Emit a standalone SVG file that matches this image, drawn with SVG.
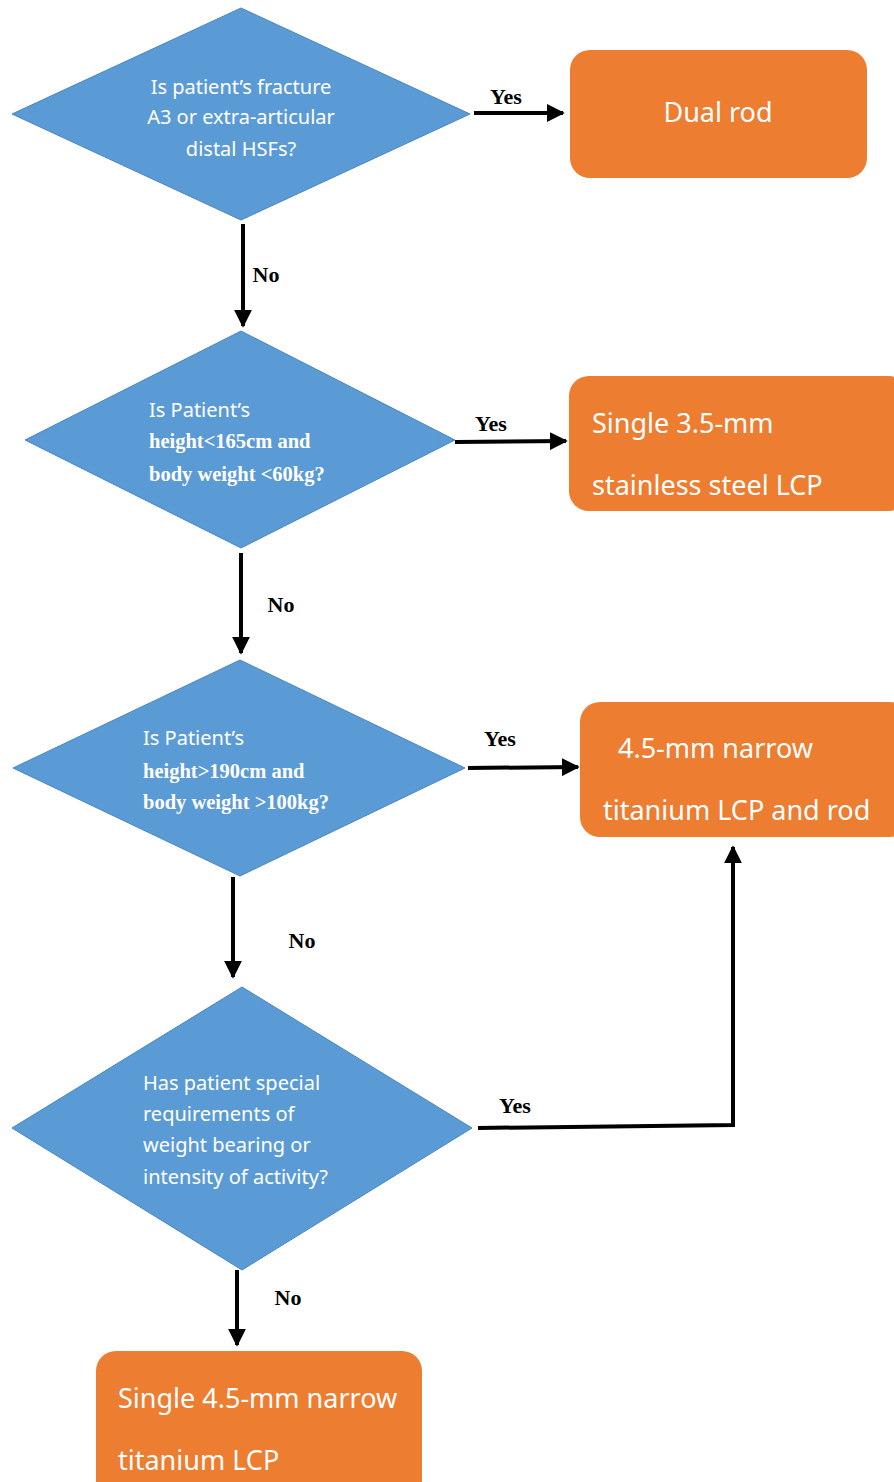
<svg xmlns="http://www.w3.org/2000/svg" width="894" height="1482" viewBox="0 0 894 1482">
<style>
.dia{fill:#5B9BD5;stroke:#4A86C0;stroke-width:1}
.box{fill:#ED7D31}
.qs{font-family:"Noto Sans","Open Sans",sans-serif;font-size:20px;fill:#fff}
.qb{font-family:"Liberation Serif","Times New Roman",serif;font-weight:bold;font-size:20.5px;fill:#fff}
.bt{font-family:"Noto Sans","Open Sans",sans-serif;font-size:27px;fill:#fff}
.lbl{font-family:"Liberation Serif","Times New Roman",serif;font-weight:bold;font-size:22px;fill:#000}
.ln{stroke:#000;stroke-width:4;fill:none}
</style>
<defs>
<marker id="ah" viewBox="0 0 10 10" refX="9" refY="5" markerWidth="4.5" markerHeight="4.5" markerUnits="strokeWidth" orient="auto">
<path d="M0,0 L10,5 L0,10 z" fill="#000"/>
</marker>
</defs>

<g id="q1">
<polygon class="dia" points="241,8 470,114 241,220 12,114"/>
<text class="qs" x="241" y="94" text-anchor="middle">Is patient’s fracture</text>
<text class="qs" x="241" y="124" text-anchor="middle">A3 or extra-articular</text>
<text class="qs" x="241" y="156" text-anchor="middle">distal HSFs?</text>
</g>
<g id="r1">
<rect class="box" x="570" y="50" width="297" height="128" rx="20"/>
<text class="bt" x="718" y="122" text-anchor="middle">Dual rod</text>
</g>

<g id="q2">
<polygon class="dia" points="241,331 455,440 241,548 25,440"/>
<text class="qs" x="149" y="417">Is Patient’s</text>
<text class="qb" x="149" y="448">height&lt;165cm and</text>
<text class="qb" x="149" y="481">body weight &lt;60kg?</text>
</g>
<g id="r2">
<rect class="box" x="569" y="376" width="340" height="135" rx="20"/>
<text class="bt" x="592" y="433">Single 3.5-mm</text>
<text class="bt" x="592" y="495">stainless steel LCP</text>
</g>

<g id="q3">
<polygon class="dia" points="240,660 465,768 240,876 13,768"/>
<text class="qs" x="143" y="745">Is Patient’s</text>
<text class="qb" x="143" y="778">height&gt;190cm and</text>
<text class="qb" x="143" y="809">body weight &gt;100kg?</text>
</g>
<g id="r3">
<rect class="box" x="580" y="702" width="330" height="135" rx="20"/>
<text class="bt" x="618" y="758">4.5-mm narrow</text>
<text class="bt" x="603" y="820">titanium LCP and rod</text>
</g>

<g id="q4">
<polygon class="dia" points="242,987 472,1128 242,1270 12,1128"/>
<text class="qs" x="143" y="1090">Has patient special</text>
<text class="qs" x="143" y="1121">requirements of</text>
<text class="qs" x="143" y="1152">weight bearing or</text>
<text class="qs" x="143" y="1184">intensity of activity?</text>
</g>

<g id="r4">
<rect class="box" x="96" y="1351" width="326" height="150" rx="20"/>
<text class="bt" x="118" y="1408">Single 4.5-mm narrow</text>
<text class="bt" x="118" y="1470">titanium LCP</text>
</g>

<g id="connectors">
<line class="ln" x1="474" y1="113" x2="563" y2="113" marker-end="url(#ah)"/>
<line class="ln" x1="243" y1="224" x2="243" y2="326" marker-end="url(#ah)"/>
<line class="ln" x1="455" y1="442" x2="566" y2="441" marker-end="url(#ah)"/>
<line class="ln" x1="241" y1="553" x2="241" y2="653" marker-end="url(#ah)"/>
<line class="ln" x1="468" y1="768" x2="578" y2="767" marker-end="url(#ah)"/>
<line class="ln" x1="233" y1="877" x2="233" y2="977" marker-end="url(#ah)"/>
<polyline class="ln" points="478,1128 733,1125 733,847" marker-end="url(#ah)"/>
<line class="ln" x1="237" y1="1270" x2="237" y2="1345" marker-end="url(#ah)"/>
<text class="lbl" x="506" y="104" text-anchor="middle">Yes</text>
<text class="lbl" x="266" y="282" text-anchor="middle">No</text>
<text class="lbl" x="491" y="431" text-anchor="middle">Yes</text>
<text class="lbl" x="281" y="612" text-anchor="middle">No</text>
<text class="lbl" x="500" y="746" text-anchor="middle">Yes</text>
<text class="lbl" x="302" y="948" text-anchor="middle">No</text>
<text class="lbl" x="515" y="1113" text-anchor="middle">Yes</text>
<text class="lbl" x="288" y="1305" text-anchor="middle">No</text>
</g>
</svg>
